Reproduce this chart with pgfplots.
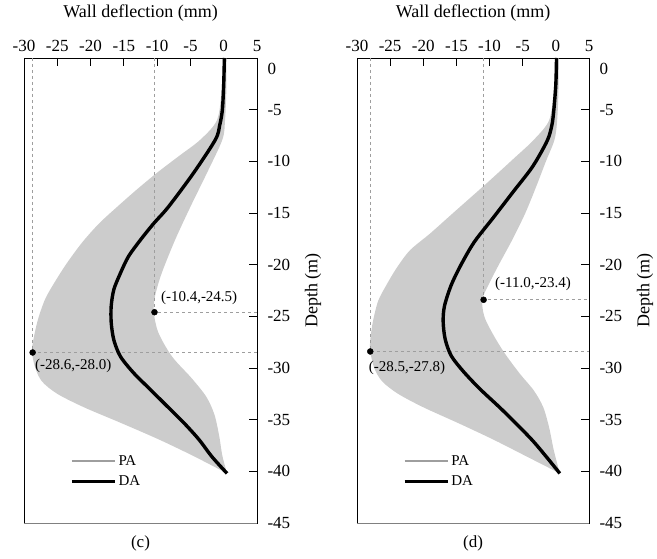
\documentclass[border=0pt]{standalone}
\usepackage{fontspec}
\setmainfont{Liberation Serif}
\usepackage{pgfplots}
\usepgfplotslibrary{fillbetween}
\pgfplotsset{compat=1.18}

\definecolor{bandgray}{gray}{0.80}
\definecolor{pagray}{gray}{0.62}
\definecolor{dashgray}{gray}{0.62}

\newcommand{\bigf}{\fontsize{17}{20}\selectfont}
\newcommand{\labf}{\fontsize{18}{21}\selectfont}
\newcommand{\legf}{\fontsize{15}{18}\selectfont}
\newcommand{\smf}{\fontsize{15}{17}\selectfont}

\pgfplotsset{
  panel/.style={
    scale only axis, width=233pt, height=465pt,
    xmin=-30, xmax=5, ymin=-45, ymax=0,
    xtick={-30,-25,...,5}, ytick={-45,-40,...,0},
    xticklabels={-30,-25,-20,-15,-10,-5,0,5},
    yticklabels={-45,-40,-35,-30,-25,-20,-15,-10,-5,{\raisebox{-17pt}[0pt][0pt]{0}}},
    xticklabel pos=upper, yticklabel pos=right,
    xtick pos=upper, ytick pos=right,
    tick align=inside, major tick length=8pt,
    tick style={black, line width=0.9pt},
    axis line style={line width=0.9pt},
    ticklabel style={font=\bigf},
    xticklabel style={yshift=3pt},
    yticklabel style={xshift=7pt},
    label style={font=\labf},
    xlabel={Wall deflection (mm)}, ylabel={Depth (m)},
    xlabel style={at={(axis description cs:0.5,1)}, anchor=center, yshift=45pt},
    ylabel style={at={(axis description cs:1,0.5)}, anchor=center, yshift=-56pt},
    legend style={draw=none, fill=none, font=\legf, row sep=5pt,
      inner sep=0pt, anchor=west},
    legend cell align=left,
    legend image code/.code={\draw[#1] (0pt,0pt) -- (43pt,0pt);},
    clip=false,
  }
}

\begin{document}
\begin{tikzpicture}

% ---------------- panel (c) ----------------
\begin{axis}[panel, at={(24pt,-58pt)}, anchor=north west,
  legend style={at={(rel axis cs:0.197,0.111)}}]
\addplot[name path=Lc, draw=none, smooth, forget plot] coordinates {
(-0.1,0)(-0.3,-3)(-1,-6)(-3.5,-7.9)(-6.75,-9.5)(-10,-11.1)(-13,-12.7)(-16,-14.4)
(-18.7,-16)(-21.2,-17.8)(-23.5,-19.8)(-25.3,-21.6)(-26.8,-23.3)(-27.9,-25.3)
(-28.6,-27.3)(-28.8,-28.5)(-28.3,-30)(-27.3,-31.3)(-25,-32.5)(-21,-33.8)
(-15.5,-35.3)(-9.8,-36.9)(-4.6,-38.5)(0.5,-40.2)};
\addplot[name path=Rc, draw=none, smooth, forget plot] coordinates {
(0.4,0)(0.4,-3)(0.2,-6)(-0.2,-7.9)(-2.5,-11.1)(-5.0,-14.4)(-7.3,-17.6)(-9.3,-20.8)
(-10.3,-23)(-10.5,-24.6)(-9.8,-26.6)(-7.75,-28.9)(-4.8,-31)(-2.6,-32.8)
(-1.4,-34.5)(-0.7,-36.5)(-0.2,-38.5)(0.5,-40.2)};
\addplot[bandgray, forget plot] fill between[of=Lc and Rc];
% dashed guides
\addplot[dashgray, dashed, line width=0.7pt, forget plot] coordinates {(-28.7,0)(-28.7,-28.5)(5,-28.5)};
\addplot[dashgray, dashed, line width=0.7pt, forget plot] coordinates {(-10.4,0)(-10.4,-24.6)(5,-24.6)};
\addlegendimage{legend image code/.code={\draw[pagray, line width=2.6pt] (0pt,0pt) -- (43pt,0pt);}}
\addlegendentry{PA}
\addplot[black, line width=3.4pt, smooth] coordinates {
(0.1,0)(0,-2.5)(-0.2,-5)(-0.6,-6.5)(-1.25,-7.9)(-4.5,-11.1)(-8.3,-14.4)(-10.5,-16)
(-12.5,-17.6)(-14.3,-19.2)(-15.5,-20.8)(-16.5,-22.4)(-16.9,-24)(-16.9,-25.6)
(-16.5,-27.3)(-15.5,-28.9)(-13.5,-30.5)(-11,-32.1)(-8.5,-33.7)(-6,-35.3)
(-3.75,-36.9)(-1.75,-38.6)(0.5,-40.2)};
\addlegendentry{DA}
\addplot[only marks, mark=*, mark size=3pt, black, forget plot] coordinates {(-10.4,-24.6)(-28.7,-28.5)};
\node[font=\smf, anchor=south west] at (axis cs:-10.4,-24.6) [xshift=3pt, yshift=4pt] {(-10.4,-24.5)};
\node[font=\smf, anchor=north west] at (axis cs:-28.7,-28.5) [xshift=-1pt, yshift=-3pt] {(-28.6,-28.0)};
\draw[gray, line width=0.9pt] (rel axis cs:0,0) -- (rel axis cs:1,0);
\node[font=\bigf] at (rel axis cs:0.5,0) [yshift=-20pt] {(c)};
\end{axis}

% ---------------- panel (d) ----------------
\begin{axis}[panel, at={(357pt,-58pt)}, anchor=north west, width=232pt,
  legend style={at={(rel axis cs:0.197,0.111)}}]
\addplot[name path=Ld, draw=none, smooth, forget plot] coordinates {
(-0.1,0)(-0.3,-3)(-1,-6)(-3.3,-7.9)(-6.3,-9.7)(-10.4,-12.1)(-15.5,-15)(-19,-17)
(-22,-18.6)(-24,-20.3)(-25.5,-21.9)(-26.8,-23.5)(-27.6,-25.5)(-28,-27.3)(-28,-28.4)
(-27.4,-30)(-26.2,-31.3)(-23.8,-32.5)(-20,-33.8)(-14.5,-35.4)(-9.2,-37)(-4.3,-38.6)(0.6,-40.2)};
\addplot[name path=Rd, draw=none, smooth, forget plot] coordinates {
(0.4,0)(0.4,-3)(0.2,-6)(-0.2,-7.9)(-1.5,-10)(-3,-12.5)(-4.6,-15)(-6.5,-17.5)(-8.6,-20)
(-10.2,-22)(-11.1,-23.4)(-10.8,-25)(-9.6,-26.6)(-7.8,-28.5)(-5.5,-30.5)(-3.3,-32.2)
(-1.9,-33.8)(-1.0,-35.8)(-0.3,-38)(0.6,-40.2)};
\addplot[bandgray, forget plot] fill between[of=Ld and Rd];
\addplot[dashgray, dashed, line width=0.7pt, forget plot] coordinates {(-28.0,0)(-28.0,-28.4)(5,-28.4)};
\addplot[dashgray, dashed, line width=0.7pt, forget plot] coordinates {(-10.9,0)(-10.9,-23.4)(5,-23.4)};
\addlegendimage{legend image code/.code={\draw[pagray, line width=2.6pt] (0pt,0pt) -- (43pt,0pt);}}
\addlegendentry{PA}
\addplot[black, line width=3.4pt, smooth] coordinates {
(0.1,0)(0,-2.5)(-0.3,-5)(-0.6,-6.5)(-1.3,-8)(-3.5,-10.5)(-6.5,-13)(-9.5,-15.5)
(-12.3,-17.8)(-14.3,-20)(-15.8,-22)(-16.8,-24)(-17.0,-25.5)(-16.7,-27.2)(-15.8,-28.8)
(-14,-30.3)(-11.5,-32)(-8.5,-33.8)(-5.8,-35.5)(-3.4,-37.1)(-1.3,-38.7)(0.6,-40.2)};
\addlegendentry{DA}
\addplot[only marks, mark=*, mark size=3pt, black, forget plot] coordinates {(-10.9,-23.4)(-28.0,-28.4)};
\node[font=\smf, anchor=south west] at (axis cs:-10.9,-23.4) [xshift=8pt, yshift=6pt] {(-11.0,-23.4)};
\node[font=\smf, anchor=north west] at (axis cs:-28.0,-28.4) [xshift=-5pt, yshift=-6pt] {(-28.5,-27.8)};
\draw[gray, line width=0.9pt] (rel axis cs:0,0) -- (rel axis cs:1,0);
\node[font=\bigf] at (rel axis cs:0.5,0) [yshift=-20pt] {(d)};
\end{axis}
\path (0,0) rectangle (657pt,-559pt);
\end{tikzpicture}
\end{document}
